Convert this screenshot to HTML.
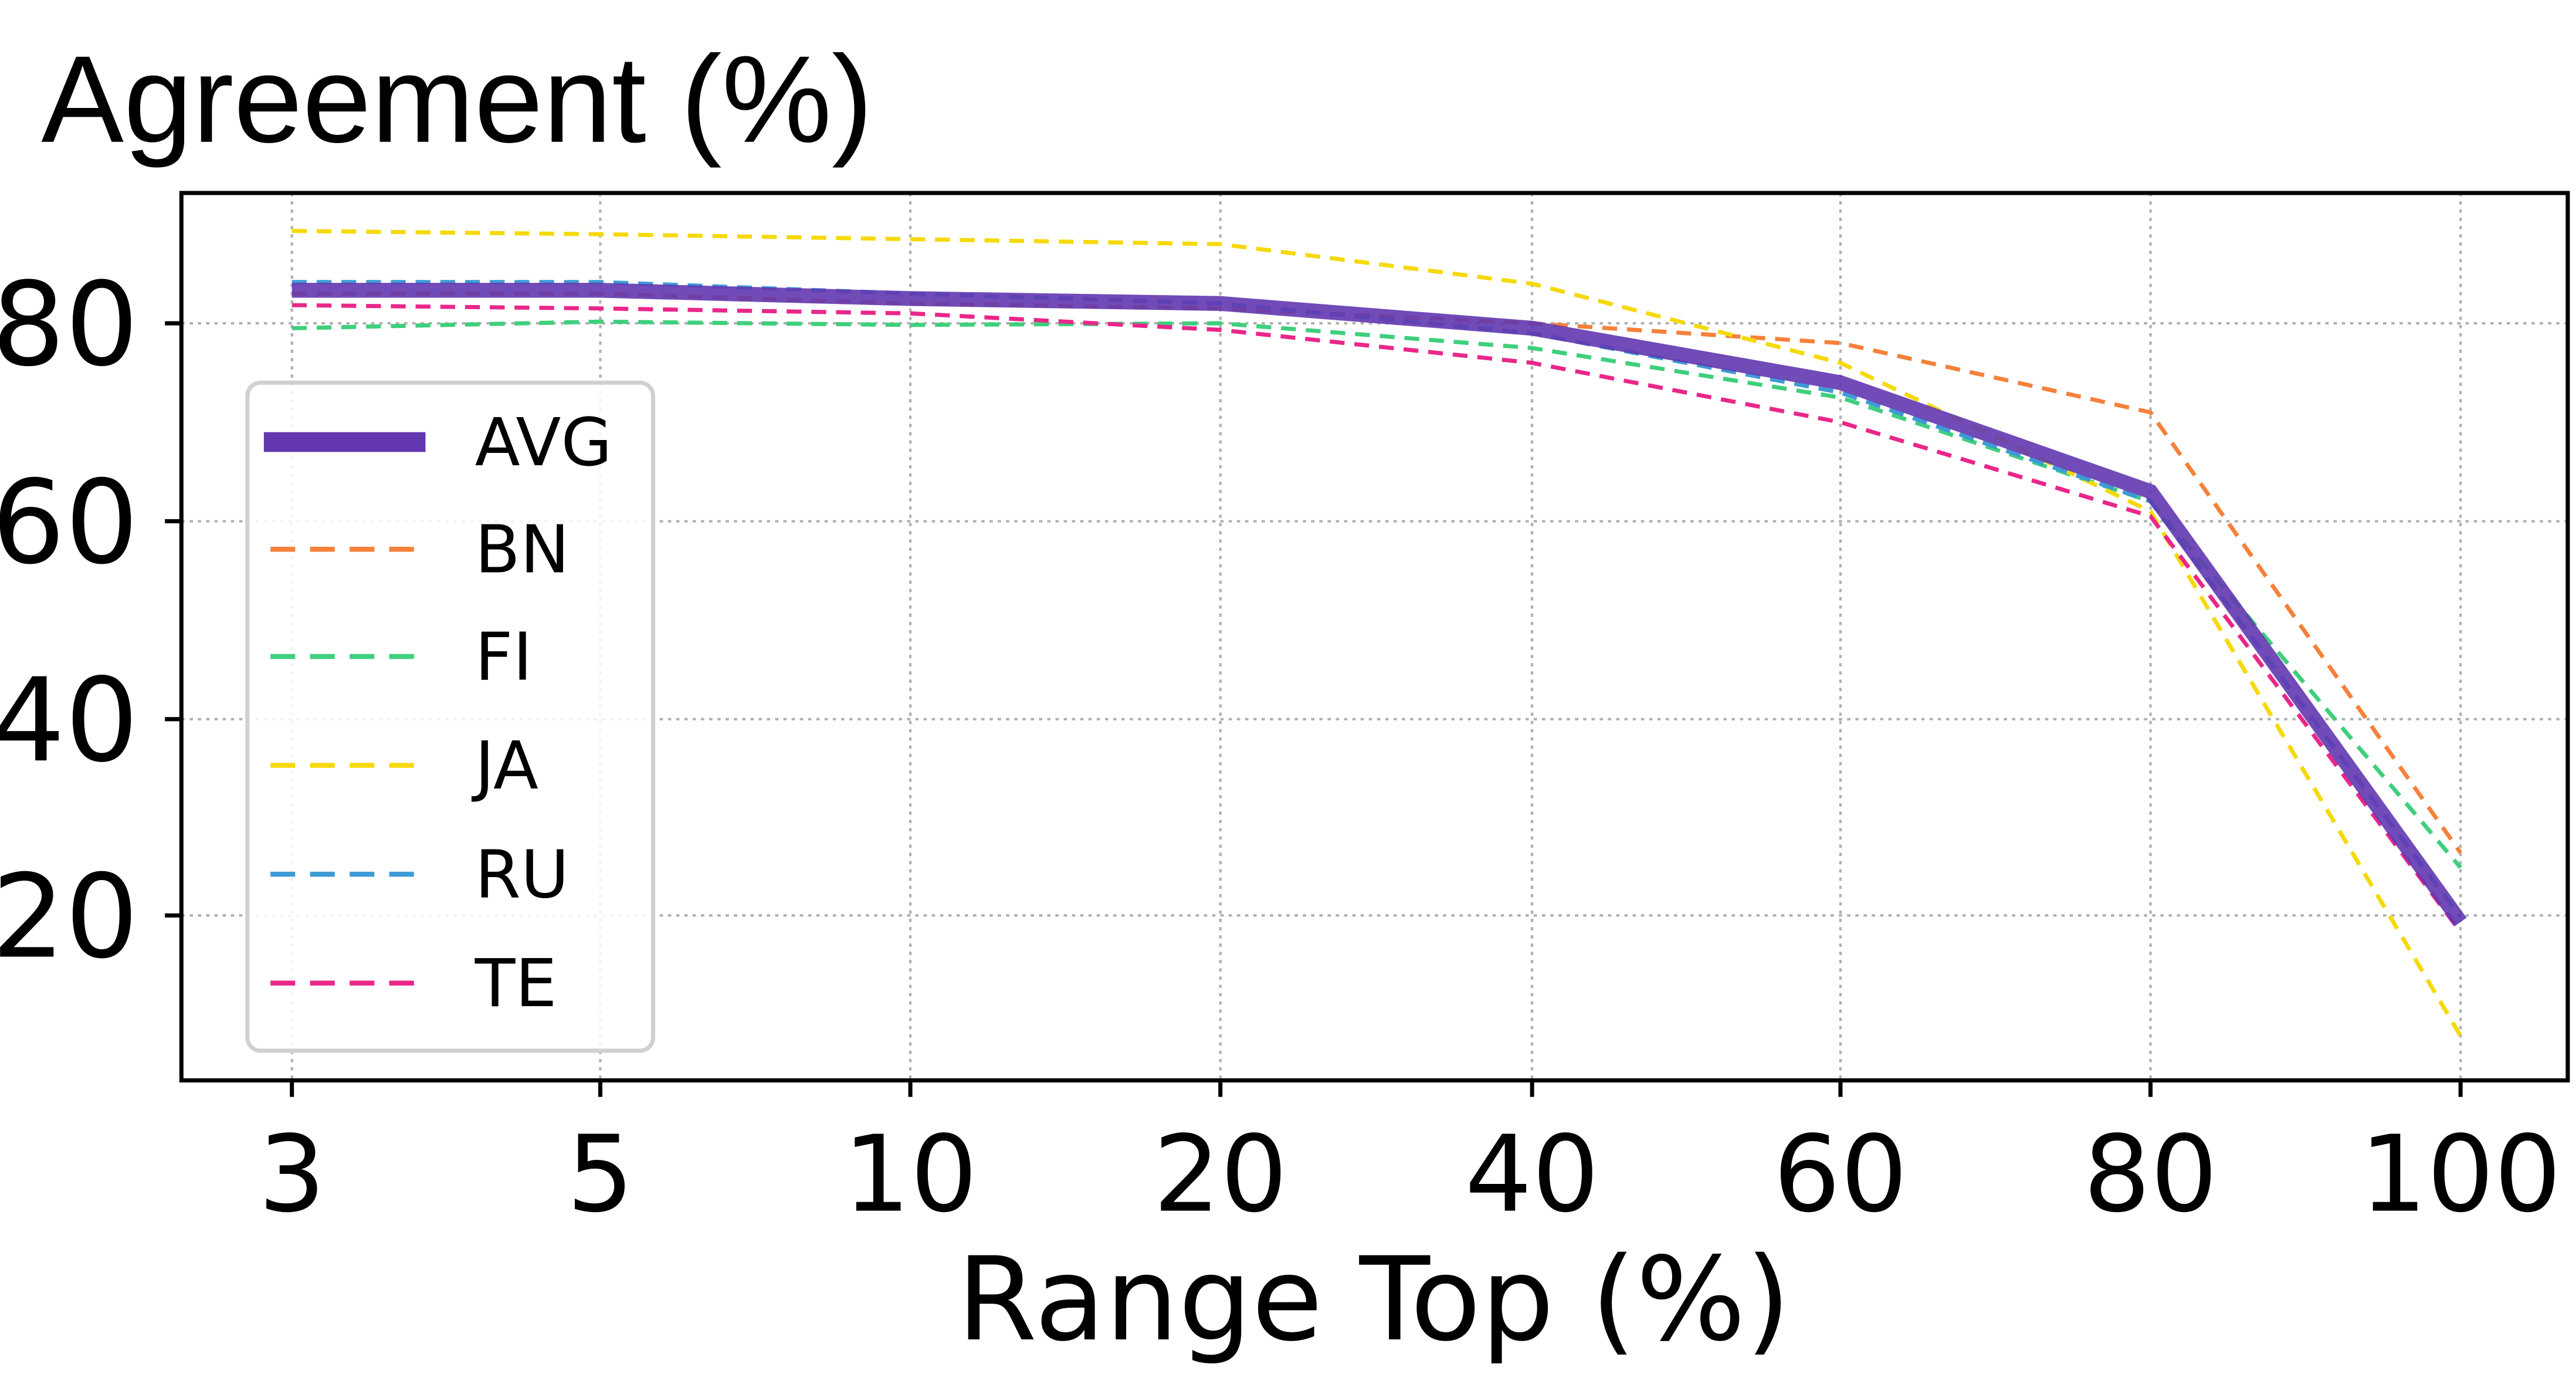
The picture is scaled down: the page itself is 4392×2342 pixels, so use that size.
<!DOCTYPE html>
<html><head><meta charset="utf-8"><style>
html,body{margin:0;padding:0;background:#fff;}
svg{display:block;}
text{font-family:"DejaVu Sans","Liberation Sans",sans-serif;fill:#000;}
</style></head><body>
<svg width="4392" height="2342" viewBox="0 0 1562 833" preserveAspectRatio="none" xmlns="http://www.w3.org/2000/svg">
<rect width="1562" height="833" fill="#fff"/>
<text x="25" y="86" style="font-family:'Liberation Sans',sans-serif" font-size="75">Agreement (%)</text>
<g stroke="#b0b0b0" stroke-width="1.5" stroke-dasharray="2,3">
<line x1="177" y1="117" x2="177" y2="655"/><line x1="364" y1="117" x2="364" y2="655"/>
<line x1="552" y1="117" x2="552" y2="655"/><line x1="740" y1="117" x2="740" y2="655"/>
<line x1="929" y1="117" x2="929" y2="655"/><line x1="1116" y1="117" x2="1116" y2="655"/>
<line x1="1304" y1="117" x2="1304" y2="655"/><line x1="1492" y1="117" x2="1492" y2="655"/>
<line x1="110" y1="196" x2="1557" y2="196"/><line x1="110" y1="316" x2="1557" y2="316"/>
<line x1="110" y1="436" x2="1557" y2="436"/><line x1="110" y1="555" x2="1557" y2="555"/>
</g>
<g fill="none" stroke-width="2.5" stroke-dasharray="9,6">
<polyline stroke="#f5813a" points="177,178 364,178 552,184 740,187 929,196 1116,208 1304,250 1492,517"/>
<polyline stroke="#3ecf7d" points="177,199 364,195 552,197 740,196 929,211 1116,241 1304,304 1492,526"/>
<polyline stroke="#f5d90a" points="177,140 364,142 552,145 740,148 929,172 1116,220 1304,310 1492,628"/>
<polyline stroke="#3e9bd6" points="177,171 364,171 552,178 740,184 929,202 1116,238 1304,304 1492,556"/>
<polyline stroke="#e9278a" points="177,185 364,187 552,190 740,200 929,220 1116,256 1304,313 1492,565"/>
</g>
<polyline fill="none" stroke="#6237b0" stroke-width="9" stroke-opacity="0.9" points="177,176 364,176 552,181 740,184 929,199 1116,232 1304,298 1492,559"/>
<rect x="110" y="117" width="1447" height="538" fill="none" stroke="#000" stroke-width="2.5"/>
<g stroke="#000" stroke-width="2.5">
<line x1="100" y1="196" x2="110" y2="196"/><line x1="100" y1="316" x2="110" y2="316"/>
<line x1="100" y1="436" x2="110" y2="436"/><line x1="100" y1="555" x2="110" y2="555"/>
<line x1="177" y1="655" x2="177" y2="665"/><line x1="364" y1="655" x2="364" y2="665"/>
<line x1="552" y1="655" x2="552" y2="665"/><line x1="740" y1="655" x2="740" y2="665"/>
<line x1="929" y1="655" x2="929" y2="665"/><line x1="1116" y1="655" x2="1116" y2="665"/>
<line x1="1304" y1="655" x2="1304" y2="665"/><line x1="1492" y1="655" x2="1492" y2="665"/>
</g>
<g font-size="70" text-anchor="end">
<text x="84" y="221">80</text><text x="84" y="341">60</text><text x="84" y="461">40</text><text x="84" y="580">20</text>
</g>
<g font-size="64" text-anchor="middle">
<text x="177" y="734">3</text><text x="364" y="734">5</text><text x="552" y="734">10</text><text x="740" y="734">20</text>
<text x="929" y="734">40</text><text x="1116" y="734">60</text><text x="1304" y="734">80</text><text x="1492" y="734">100</text>
</g>
<text x="833" y="812" font-size="70" text-anchor="middle">Range Top (%)</text>
<rect x="150" y="232" width="246" height="405" rx="8" fill="#fff" fill-opacity="0.85" stroke="#d0d0d0" stroke-width="2.5"/>
<line x1="160" y1="268" x2="258" y2="268" stroke="#6237b0" stroke-width="12"/>
<g stroke-width="3" stroke-dasharray="15,9">
<line x1="164" y1="333" x2="258" y2="333" stroke="#f5813a"/>
<line x1="164" y1="398" x2="258" y2="398" stroke="#3ecf7d"/>
<line x1="164" y1="464" x2="258" y2="464" stroke="#f5d90a"/>
<line x1="164" y1="530" x2="258" y2="530" stroke="#3e9bd6"/>
<line x1="164" y1="596" x2="258" y2="596" stroke="#e9278a"/>
</g>
<g font-size="40">
<text x="288" y="282">AVG</text><text x="288" y="347">BN</text><text x="288" y="412">FI</text>
<text x="288" y="478">JA</text><text x="288" y="544">RU</text><text x="288" y="610">TE</text>
</g>
</svg>
</body></html>
